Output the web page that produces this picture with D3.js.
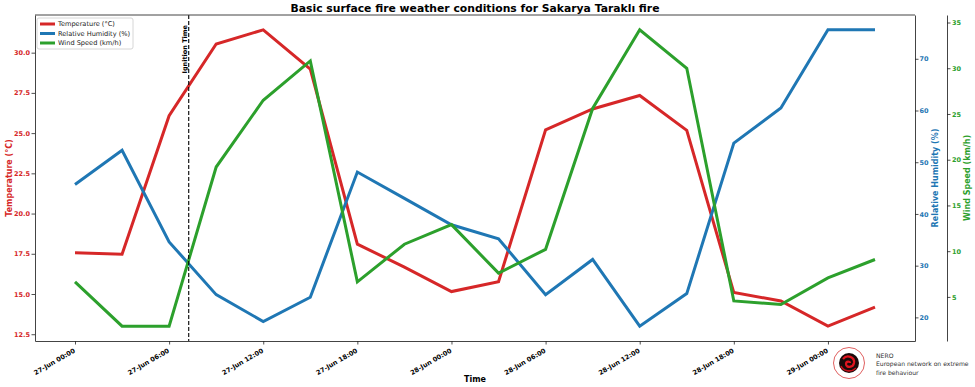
<!DOCTYPE html>
<html>
<head>
<meta charset="utf-8">
<script src="https://cdn.jsdelivr.net/npm/d3@7"></script>
<style>
  body { margin: 0; background: #fff; }
  text { font-family: "DejaVu Sans", sans-serif; }
</style>
</head>
<body>
<svg id="chart" width="975" height="387"></svg>
<script>
"use strict";

// observation times, every 3 hours
var times = [
  "2023-06-27T00:00", "2023-06-27T03:00", "2023-06-27T06:00", "2023-06-27T09:00",
  "2023-06-27T12:00", "2023-06-27T15:00", "2023-06-27T18:00", "2023-06-27T21:00",
  "2023-06-28T00:00", "2023-06-28T03:00", "2023-06-28T06:00", "2023-06-28T09:00",
  "2023-06-28T12:00", "2023-06-28T15:00", "2023-06-28T18:00", "2023-06-28T21:00",
  "2023-06-29T00:00", "2023-06-29T03:00"
];
var temperature = [17.57, 17.47, 26.08, 30.54, 31.42, 28.98, 18.1, 16.67, 15.15,
  15.77, 25.2, 26.5, 27.34, 25.17, 15.09, 14.57, 13.0, 14.18];
var humidity = [45.7, 52.3, 34.6, 24.4, 19.2, 23.9, 48.1, 43.0, 37.9,
  35.2, 24.4, 31.2, 18.3, 24.6, 53.7, 60.5, 75.6, 75.6];
var windSpeed = [6.64, 1.8, 1.8, 19.2, 26.5, 30.8, 6.64, 10.76, 12.9,
  7.6, 10.2, 25.6, 34.2, 30.0, 4.56, 4.17, 7.08, 9.09];
var ignitionTime = "2023-06-27T07:15";

var xTickTimes = [
  "2023-06-27T00:00", "2023-06-27T06:00", "2023-06-27T12:00", "2023-06-27T18:00",
  "2023-06-28T00:00", "2023-06-28T06:00", "2023-06-28T12:00", "2023-06-28T18:00",
  "2023-06-29T00:00"
];
var tempTicks = [12.5, 15.0, 17.5, 20.0, 22.5, 25.0, 27.5, 30.0];
var humidityTicks = [20, 30, 40, 50, 60, 70];
var windTicks = [5, 10, 15, 20, 25, 30, 35];

var colors = { temp: "#d62728", rh: "#1f77b4", wind: "#2ca02c" };

var plotLeft = 35, plotRight = 915, plotTop = 15, plotBottom = 341;

var parse = d3.timeParse("%Y-%m-%dT%H:%M");
var dates = times.map(parse);

// matplotlib style 5% margins
function padded(vals) {
  var lo = d3.min(vals), hi = d3.max(vals), m = (hi - lo) * 0.05;
  return [lo - m, hi + m];
}

var span = dates[dates.length - 1] - dates[0];
var x = d3.scaleTime()
  .domain([new Date(+dates[0] - span * 0.05), new Date(+dates[dates.length - 1] + span * 0.05)])
  .range([plotLeft, plotRight]);
var yT = d3.scaleLinear().domain(padded(temperature)).range([plotBottom, plotTop]);
var yH = d3.scaleLinear().domain(padded(humidity)).range([plotBottom, plotTop]);
var yW = d3.scaleLinear().domain(padded(windSpeed)).range([plotBottom, plotTop]);

var svg = d3.select("#chart");

function styleAxis(g, color) {
  g.select(".domain").attr("stroke", "#444").attr("stroke-width", 1);
  g.selectAll(".tick line").attr("stroke", "#222").attr("stroke-width", 0.8);
  g.selectAll(".tick text")
    .attr("fill", color)
    .attr("font-size", 6.5)
    .attr("font-weight", "bold")
    .attr("font-family", "DejaVu Sans, sans-serif");
}

// lines
function drawLine(vals, yScale, color) {
  var line = d3.line()
    .x(function (d, i) { return x(dates[i]); })
    .y(function (d) { return yScale(d); });
  svg.append("path")
    .datum(vals)
    .attr("fill", "none")
    .attr("stroke", color)
    .attr("stroke-width", 3)
    .attr("d", line);
}
drawLine(temperature, yT, colors.temp);
drawLine(humidity, yH, colors.rh);
drawLine(windSpeed, yW, colors.wind);

// ignition time marker
var ix = x(parse(ignitionTime));
svg.append("line")
  .attr("x1", ix).attr("x2", ix)
  .attr("y1", plotTop).attr("y2", plotBottom)
  .attr("stroke", "#000")
  .attr("stroke-width", 1.1)
  .attr("stroke-dasharray", "4,2");
svg.append("text")
  .attr("transform", "translate(" + (ix - 1.5) + "," + (plotTop + 10) + ") rotate(-90)")
  .attr("text-anchor", "end")
  .attr("font-size", 6.5)
  .attr("font-weight", "bold")
  .text("Ignition Time");

// axes
var fmt = d3.timeFormat("%d-%b %H:%M");
var gx = svg.append("g")
  .attr("transform", "translate(0," + plotBottom + ")")
  .call(d3.axisBottom(x).tickValues(xTickTimes.map(parse)).tickFormat(fmt)
    .tickSize(3.5).tickSizeOuter(0));
styleAxis(gx, "#000");
gx.selectAll(".tick text")
  .attr("text-anchor", "end")
  .attr("x", 0).attr("y", 0).attr("dy", "0.35em")
  .attr("transform", "translate(-1,9) rotate(-30)");

var gT = svg.append("g")
  .attr("transform", "translate(" + plotLeft + ",0)")
  .call(d3.axisLeft(yT).tickValues(tempTicks).tickFormat(d3.format(".1f"))
    .tickSize(3.5).tickPadding(1.5).tickSizeOuter(0));
styleAxis(gT, colors.temp);

var gH = svg.append("g")
  .attr("transform", "translate(" + plotRight + ",0)")
  .call(d3.axisRight(yH).tickValues(humidityTicks).tickFormat(d3.format("d"))
    .tickSize(3.5).tickPadding(1).tickSizeOuter(0));
styleAxis(gH, colors.rh);

var windX = 947;
var gW = svg.append("g")
  .attr("transform", "translate(" + windX + ",0)")
  .call(d3.axisRight(yW).tickValues(windTicks).tickFormat(d3.format("d"))
    .tickSize(3.5).tickPadding(1.5).tickSizeOuter(0));
styleAxis(gW, colors.wind);

// top spine
svg.append("line")
  .attr("x1", plotLeft).attr("x2", plotRight)
  .attr("y1", plotTop).attr("y2", plotTop)
  .attr("stroke", "#444").attr("stroke-width", 1);

// title and axis labels
svg.append("text")
  .attr("x", 475).attr("y", 12)
  .attr("text-anchor", "middle")
  .attr("font-size", 10.8)
  .attr("font-weight", "bold")
  .text("Basic surface fire weather conditions for Sakarya Taraklı fire");

svg.append("text")
  .attr("x", (plotLeft + plotRight) / 2).attr("y", 382)
  .attr("text-anchor", "middle")
  .attr("font-size", 8)
  .attr("font-weight", "bold")
  .text("Time");

function yLabel(xPos, txt, color) {
  svg.append("text")
    .attr("transform", "translate(" + xPos + "," + ((plotTop + plotBottom) / 2) + ") rotate(-90)")
    .attr("text-anchor", "middle")
    .attr("font-size", 8)
    .attr("font-weight", "bold")
    .attr("fill", color)
    .text(txt);
}
yLabel(11.5, "Temperature (°C)", colors.temp);
yLabel(938, "Relative Humidity (%)", colors.rh);
yLabel(970, "Wind Speed (km/h)", colors.wind);

// legend
var legendItems = [
  { label: "Temperature (°C)", color: colors.temp },
  { label: "Relative Humidity (%)", color: colors.rh },
  { label: "Wind Speed (km/h)", color: colors.wind }
];
var lg = svg.append("g").attr("transform", "translate(37,18)");
lg.append("rect")
  .attr("width", 96).attr("height", 31)
  .attr("rx", 2)
  .attr("fill", "#fff").attr("fill-opacity", 0.8)
  .attr("stroke", "#ccc").attr("stroke-width", 0.8);
var li = lg.selectAll(".item").data(legendItems).enter().append("g")
  .attr("transform", function (d, i) { return "translate(0," + (6 + i * 9.5) + ")"; });
li.append("line")
  .attr("x1", 3).attr("x2", 18)
  .attr("stroke", function (d) { return d.color; })
  .attr("stroke-width", 3);
li.append("text")
  .attr("x", 21).attr("y", 2.3)
  .attr("font-size", 6.6)
  .attr("fill", "#222")
  .text(function (d) { return d.label; });

// NERO logo
var logo = svg.append("g").attr("transform", "translate(849,363)");
logo.append("circle").attr("r", 15.5)
  .attr("fill", "#fff").attr("stroke", "#e06060").attr("stroke-width", 1);
logo.append("circle").attr("r", 10).attr("fill", "#1a0a0a");
logo.append("path")
  .attr("d", "M-6,-4 C-2,-9 6,-6 5,0 C4,5 -3,5 -3,1 C-3,-2 1,-2 1,0")
  .attr("fill", "none").attr("stroke", "#e0141e").attr("stroke-width", 2.2);
logo.append("path")
  .attr("d", "M-8,3 C-6,8 2,10 7,5")
  .attr("fill", "none").attr("stroke", "#c0101a").attr("stroke-width", 1.6);

var nero = ["NERO", "European network on extreme", "fire behaviour"];
svg.append("g").selectAll("text").data(nero).enter().append("text")
  .attr("x", 876)
  .attr("y", function (d, i) { return 358 + i * 8.3; })
  .attr("font-size", 6.1)
  .attr("fill", "#333")
  .text(function (d) { return d; });
</script>
</body>
</html>
